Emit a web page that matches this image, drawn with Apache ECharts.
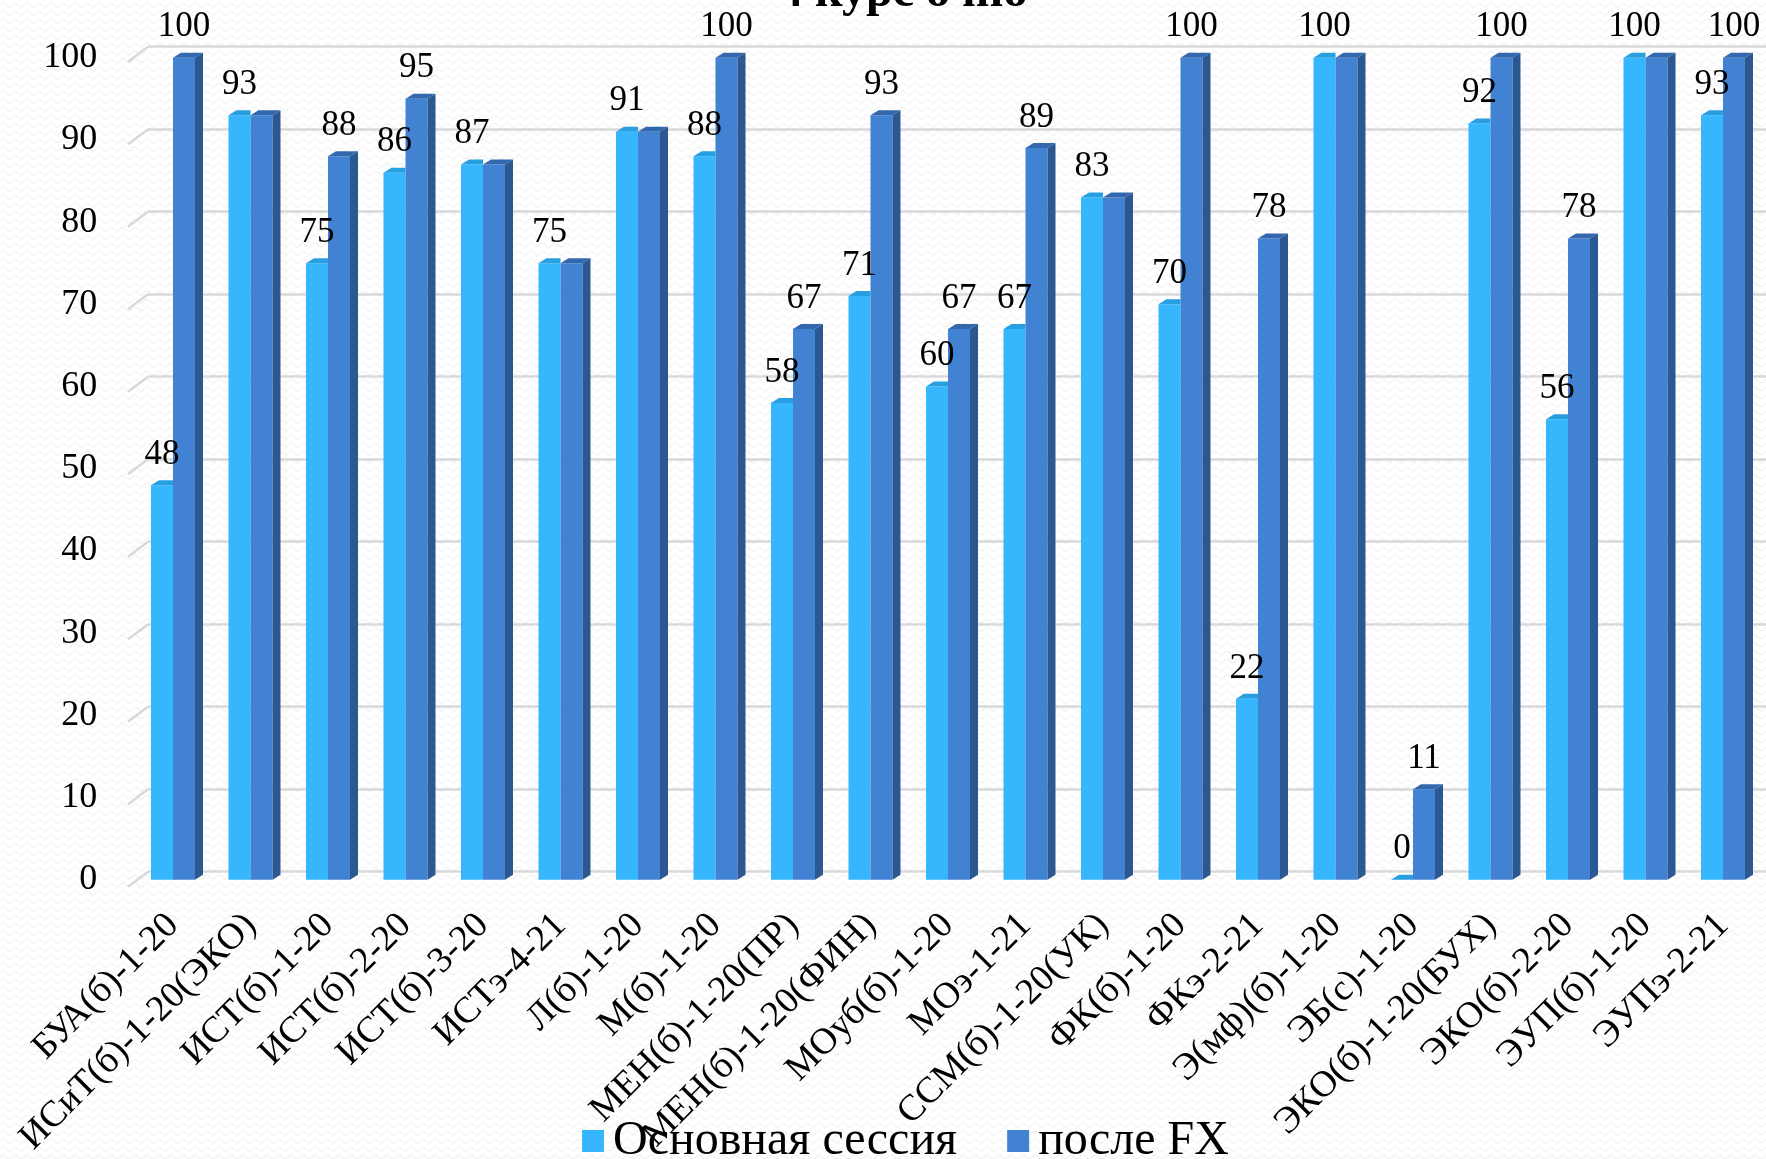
<!DOCTYPE html>
<html><head><meta charset="utf-8">
<script src="https://cdn.jsdelivr.net/npm/echarts@6/dist/echarts.min.js"></script>
<style>html,body{margin:0;padding:0;background:#fff}#c{width:1766px;height:1159px}</style>
</head><body><div id="c"></div>
<script>
const categories = ['БУА(б)-1-20','ИСиТ(б)-1-20(ЭКО)','ИСТ(б)-1-20','ИСТ(б)-2-20','ИСТ(б)-3-20','ИСТэ-4-21','Л(б)-1-20','М(б)-1-20','МЕН(б)-1-20(ПР)','МЕН(б)-1-20(ФИН)','МОуб(б)-1-20','МОэ-1-21','ССМ(б)-1-20(УК)','ФК(б)-1-20','ФКэ-2-21','Э(мф)(б)-1-20','ЭБ(с)-1-20','ЭКО(б)-1-20(БУХ)','ЭКО(б)-2-20','ЭУП(б)-1-20','ЭУПэ-2-21'];
const mainSession = [48,93,75,86,87,75,91,88,58,71,60,67,83,70,22,100,0,92,56,100,93];
const afterFX = [100,93,88,95,87,75,91,100,67,93,67,89,83,100,78,100,11,100,78,100,100];
const yTicks = [0,10,20,30,40,50,60,70,80,90,100];
const seriesNames = ['Основная сессия','после FX'];
const titleText = '4 курс очно';

const FONT = '"Liberation Serif","Times New Roman",serif';
const BW = 22, DX = 8, DY = 5;
const C = {lightFront:'#35b6fd', lightTop:'#279fe0', darkFront:'#4282d3', darkTop:'#3468ae', darkSide:'#2b5890'};

// faint wavy background texture
const tile = document.createElement('canvas');
tile.width = 12; tile.height = 8;
(function(){
  const g = tile.getContext('2d');
  g.fillStyle = '#ffffff'; g.fillRect(0,0,12,8);
  g.strokeStyle = '#efefef'; g.lineWidth = 1.2;
  g.beginPath(); g.moveTo(0,5); g.quadraticCurveTo(3,1,6,5); g.quadraticCurveTo(9,9,12,5); g.stroke();
})();

const chart = echarts.init(document.getElementById('c'), null, {renderer:'canvas'});
const option = {
  backgroundColor: {image: tile, repeat: 'repeat'},
  animation: false,
  title: {text: titleText, left: 774, top: -35, textStyle: {fontFamily: FONT, fontSize: 48, fontWeight: 'bold', color: '#000'}},
  legend: {
    data: seriesNames, left: 577, top: 1112, itemWidth: 22, itemHeight: 22, itemGap: 50, icon: 'rect',
    textStyle: {fontFamily: FONT, fontSize: 48, color: '#000', padding: [0,0,0,4]}
  },
  grid: [
    {left: 134.25, right: 4.25, top: 57.7, bottom: 277},
    {left: 148, right: 0, top: 46.7, bottom: 287.3}
  ],
  xAxis: [
    {type: 'category', data: categories, gridIndex: 0, axisLine: {show: false}, axisTick: {show: false},
     axisLabel: {rotate: 45, interval: 0, fontFamily: FONT, fontSize: 37, color: '#000', margin: 40}},
    {type: 'value', gridIndex: 1, min: 0, max: 1, show: false}
  ],
  yAxis: [
    {type: 'value', gridIndex: 0, min: 0, max: 100, interval: 10, splitLine: {show: false}, axisLine: {show: false}, axisTick: {show: false},
     axisLabel: {fontFamily: FONT, fontSize: 36, color: '#000', margin: 37, padding: [12,0,0,0]}},
    {type: 'value', gridIndex: 1, min: 0, max: 100, interval: 10, axisLabel: {show: false}, axisLine: {show: false}, axisTick: {show: false},
     splitLine: {show: true, lineStyle: {color: '#d9d9d9', width: 2.5}}}
  ],
  series: [
    {type: 'custom', xAxisIndex: 1, yAxisIndex: 1, silent: true, z: 1,
     data: yTicks.map(v => [0, v]),
     renderItem: (params, api) => {
       const p = api.coord([0, api.value(1)]);
       return {type: 'line', shape: {x1: p[0]-20, y1: p[1]+15, x2: p[0], y2: p[1]}, style: {stroke: '#d9d9d9', lineWidth: 2.5}};
     }},
    {type: 'bar', name: seriesNames[0], data: mainSession, barWidth: BW, barGap: '0%', itemStyle: {color: C.lightFront},
     label: {show: true, position: 'top', distance: 13, fontFamily: FONT, fontSize: 35, color: '#000'}},
    {type: 'bar', name: seriesNames[1], data: afterFX.map((v, i) => ({value: v, label: {show: v !== mainSession[i]}})), barWidth: BW, barGap: '0%', itemStyle: {color: C.darkFront},
     label: {show: true, position: 'top', distance: 13, fontFamily: FONT, fontSize: 35, color: '#000'}},
    {type: 'custom', silent: true, z: 3,
     data: categories.map((c, i) => [i, mainSession[i], afterFX[i]]),
     renderItem: (params, api) => {
       const i = api.value(0);
       const a = api.coord([i, api.value(1)]);
       const b = api.coord([i, api.value(2)]);
       const base = api.coord([i, 0]);
       const cx = a[0];
       return {type: 'group', children: [
         {type: 'polygon', shape: {points: [[cx-BW, a[1]], [cx, a[1]], [cx, a[1]-DY], [cx-BW+DX, a[1]-DY]]}, style: {fill: C.lightTop}},
         {type: 'polygon', shape: {points: [[cx, b[1]], [cx+BW, b[1]], [cx+BW+DX, b[1]-DY], [cx+DX, b[1]-DY]]}, style: {fill: C.darkTop}},
         {type: 'polygon', shape: {points: [[cx+BW, b[1]], [cx+BW+DX, b[1]-DY], [cx+BW+DX, base[1]-DY], [cx+BW, base[1]]]}, style: {fill: C.darkSide}}
       ]};
     }}
  ]
};
chart.setOption(option);
</script></body></html>
